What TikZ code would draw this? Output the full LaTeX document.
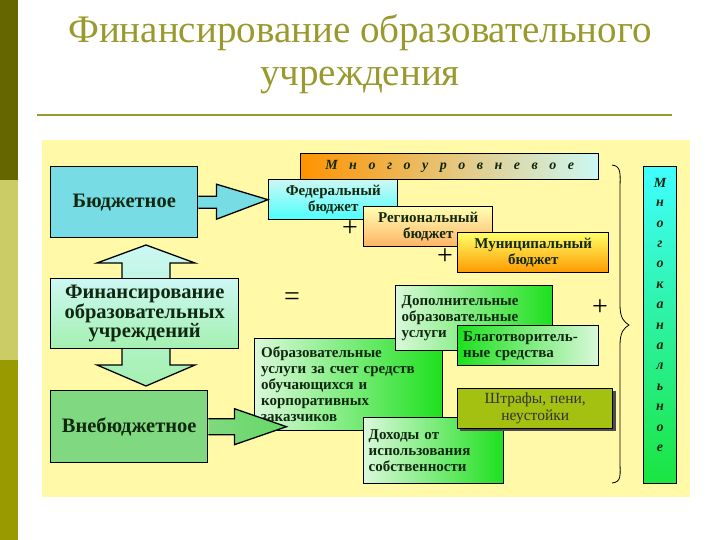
\documentclass[tikz,border=0pt]{standalone}
\usepackage{fontspec}
\setmainfont{Liberation Serif}
\usepackage{tikz}
\usetikzlibrary{positioning,calc,decorations.pathreplacing}

\definecolor{barDark}{HTML}{666600}
\definecolor{barLight}{HTML}{CCCC66}
\definecolor{barMid}{HTML}{999900}
\definecolor{titleCol}{HTML}{99992E}
\definecolor{bgYellow}{HTML}{FFF9A8}
\definecolor{boxText}{HTML}{102810}
\definecolor{budCyan}{HTML}{78DCE4}
\definecolor{vneGreen}{HTML}{80D880}
\definecolor{paleCyan}{HTML}{CCF8F4}
\definecolor{paleGreen}{HTML}{A4F0B0}
\definecolor{lightGreen}{HTML}{DAF8DA}
\definecolor{brightGreen}{HTML}{1EE01E}
\definecolor{fineOlive}{HTML}{A4C010}

\begin{document}
\begin{tikzpicture}[x=1pt,y=-1pt]
	%defines
	\tikzstyle{box} = [rectangle, draw=black, line width=1.4pt, anchor=north west, inner sep=4pt, text=boxText]
	\tikzstyle{bigbox} = [box, font=\fontsize{20.5}{18.5}\selectfont\bfseries, align=center]
	\tikzstyle{budget} = [box, font=\fontsize{15}{16.5}\selectfont\bfseries, align=center]
	\tikzstyle{source} = [box, font=\fontsize{15}{16}\selectfont\bfseries, align=left, left color=lightGreen, right color=brightGreen]
	\tikzstyle{sign} = [font=\fontsize{28}{28}\selectfont, text=black]
	\tikzstyle{blockarrow} = [draw=black, line width=1.3pt, line join=miter]
	\useasboundingbox (0,0) rectangle (720,540);
	%side bar and title
	\fill[barDark] (0,0) rectangle (18,180);
	\fill[barLight] (0,180) rectangle (18,360);
	\fill[barMid] (0,360) rectangle (18,540);
	\node (title) [font=\fontsize{39}{43}\selectfont, text=titleCol, align=center] at (360,54) {Финансирование образовательного\\учреждения};
	\draw[titleCol, line width=1.6pt] (37,115) -- (672,115);
	\fill[bgYellow] (42,140) rectangle (690,497);
	%left column
	\coordinate (upTip) at (146,245);
	\coordinate (downTip) at (146,386);
	\shade[top color=paleCyan, bottom color=paleGreen, blockarrow] (upTip) -- ++(49,18) -- ++(-25,0) -- ++(0,102) -- ++(25,0) -- (downTip) -- ++(-49,-21) -- ++(25,0) -- ++(0,-102) -- ++(-25,0) -- cycle;
	\node (bud) [bigbox, fill=budCyan, minimum width=147pt, minimum height=71pt] at (50,166) {Бюджетное};
	\node (fin) [bigbox, top color=paleCyan, bottom color=paleGreen, minimum width=188pt, minimum height=70pt] at (50,278) {Финансирование\\образовательных\\учреждений};
	\node (vne) [bigbox, fill=vneGreen, minimum width=157pt, minimum height=72pt] at (50,390) {Внебюджетное};
	%budget levels
	\node (multi) [box, left color=orange!85!yellow, right color=paleCyan, minimum width=298pt, minimum height=26pt, font=\fontsize{14}{14}\selectfont\bfseries\itshape] at (300,153) {М\hspace{11.5pt}н\hspace{11.5pt}о\hspace{11.5pt}г\hspace{11.5pt}о\hspace{11.5pt}у\hspace{11.5pt}р\hspace{11.5pt}о\hspace{11.5pt}в\hspace{11.5pt}н\hspace{11.5pt}е\hspace{11.5pt}в\hspace{11.5pt}о\hspace{11.5pt}е};
	\node (fed) [budget, top color=paleCyan, bottom color=cyan!70, minimum width=129pt, minimum height=40pt] at (268,179) {Федеральный\\бюджет};
	\node (reg) [budget, top color=yellow!30, bottom color=orange!60, minimum width=129pt, minimum height=40pt] at (363,206) {Региональный\\бюджет};
	\node (mun) [budget, top color=yellow!60, bottom color=orange!80!yellow, minimum width=151pt, minimum height=40pt] at (457,232) {Муниципальный\\бюджет};
	\node (plusA) [sign] at (350,229) {+};
	\node (plusB) [sign] at (445,257) {+};
	\node (equal) [sign] at (292,299) {=};
	\node (plusC) [sign] at (600,308) {+};
	%extra-budget sources
	\node (obr) [source, minimum width=188pt, minimum height=92pt, text width=175pt] at (254,338) {Образовательные\\услуги за счет средств\\обучающихся и\\корпоративных\\заказчиков};
	\node (dop) [source, minimum width=157pt, minimum height=65pt, text width=145pt] at (395,285) {Дополнительные\\образовательные\\услуги};
	\node (blag) [source, left color=brightGreen, right color=lightGreen, minimum width=141pt, minimum height=40pt, text width=130pt] at (457,325) {Благотворитель-\\ные средства};
	\node (doh) [source, minimum width=140pt, minimum height=66pt, text width=130pt] at (363,417) {Доходы от\\использования\\собственности};
	\fill[black!70] (460,391) rectangle (616,431);
	\node (fine) [box, fill=fineOlive, minimum width=155pt, minimum height=40pt, align=center, font=\fontsize{15.5}{17}\selectfont, text=black!80] at (457,388) {Штрафы, пени,\\неустойки};
	%channels
	\draw[line width=0.8pt] (612,165) .. controls (622,166) and (620,175) .. (620,190) -- (620,305) .. controls (620,318) and (624,322) .. (629,325) .. controls (624,328) and (620,332) .. (620,345) -- (620,460) .. controls (620,475) and (622,482) .. (612,483);
	\node (chan) [box, top color=cyan!75!white, bottom color=brightGreen!85!cyan, minimum width=33pt, minimum height=317pt, anchor=north] at (660,166) {};
	\foreach \letter [count=\i from 0] in {М,н,о,г,о,к,а,н,а,л,ь,н,о,е}
		\node (chanLetter\i) [font=\fontsize{14}{14}\selectfont\bfseries\itshape, text=boxText] at ($(chan.north)+(0,17+20.4*\i)$) {\letter};
	%arrows
	\coordinate (vneTip) at ($(vne.east)+(78,0)$);
	\shade[left color=budCyan, right color=budCyan, blockarrow] ($(bud.east)+(0,-6)$) -- ++(18,0) -- ++(0,-12) -- (fed.west) -- ($(bud.east)+(18,17)$) -- ++(0,-11) -- ($(bud.east)+(0,6)$);
	\shade[left color=vneGreen, right color=vneGreen!70!brightGreen, blockarrow] ($(vne.east)+(0,-8)$) -- ++(26,0) -- ++(0,-10) -- (vneTip) -- ($(vne.east)+(26,18)$) -- ++(0,-10) -- ($(vne.east)+(0,8)$);
\end{tikzpicture}
\end{document}
